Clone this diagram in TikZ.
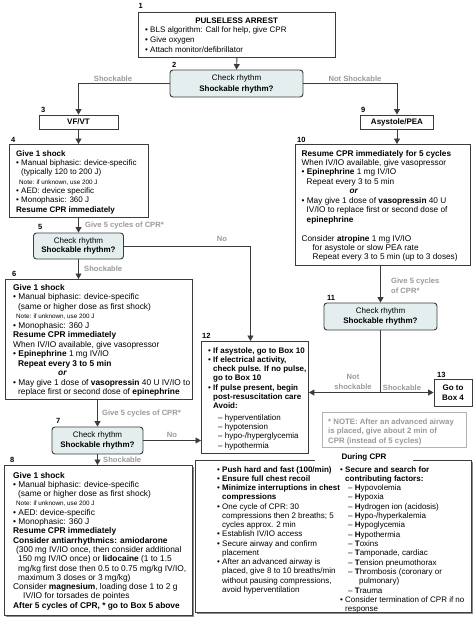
\documentclass[tikz,border=0pt]{standalone}
\usepackage{fontspec}
\setmainfont{Liberation Sans}
\usetikzlibrary{arrows.meta,shadows,calc}
\definecolor{boxline}{HTML}{3C3C3C}
\definecolor{dfill}{HTML}{E4EEEE}
\definecolor{glab}{HTML}{9A9A9A}
\newcommand\bul{\textbullet\ }
\newcommand\hng{\hspace*{5pt}}
\newcommand\tstrut{\rule{0pt}{7pt}}
\newcommand\nt[1]{{\fontsize{6.3}{9.35}\selectfont #1}}
\tikzset{
  box/.style={draw=boxline, line width=0.9pt, fill=white, inner sep=0pt, anchor=north west},
  dec/.style={draw=boxline, line width=0.9pt, fill=dfill, rounded corners=3pt, align=center, inner sep=0pt, font=\fontsize{8}{9.5}\selectfont},
  txt/.style={anchor=north west, inner sep=0pt, align=left, font=\fontsize{8}{9.35}\selectfont},
  num/.style={anchor=base west, inner sep=0pt, font=\bfseries\fontsize{7.5}{9}\selectfont},
  glabel/.style={text=glab, font=\bfseries\fontsize{7.6}{9}\selectfont, inner sep=0pt},
  conn/.style={draw=boxline, line width=0.9pt},
  arr/.style={conn, -{Triangle[width=6pt,length=5.5pt]}},
  shad/.style={drop shadow={shadow xshift=1.3pt, shadow yshift=-1.3pt, fill=black!45, opacity=1}}
}
\begin{document}
\begin{tikzpicture}[x=1pt,y=-1pt]
\fill[white] (0,0) rectangle (474,621);
\useasboundingbox (0,0) rectangle (474,621);

% ---------- boxes ----------
\node[box, minimum width=197, minimum height=45] (b1) at (138,12) {};
\node[dec, minimum width=133, minimum height=27, font=\fontsize{8}{11}\selectfont] (b2) at (236.5,83.5) {Check rhythm\\\textbf{Shockable rhythm?}};
\node[box, anchor=center, minimum width=79, minimum height=14, font=\bfseries\fontsize{8}{9}\selectfont] (b3) at (78.5,122) {VF/VT};
\node[box, anchor=center, minimum width=73, minimum height=14, font=\bfseries\fontsize{8}{9}\selectfont] (b9) at (397,122) {Asystole/PEA};
\node[box, minimum width=139, minimum height=73] (b4) at (9,144) {};
\node[box, minimum width=175, minimum height=121] (b10) at (295,144) {};
\node[dec, minimum width=90, minimum height=26] (b5) at (78.5,246) {Check rhythm\\\textbf{Shockable rhythm?}};
\node[box, minimum width=187, minimum height=120] (b6) at (5,279) {};
\node[dec, minimum width=113, minimum height=27] (b11) at (380.5,316.5) {Check rhythm\\\textbf{Shockable rhythm?}};
\node[box, minimum width=107, minimum height=112] (b12) at (201,341) {};
\node[box, anchor=center, minimum width=38, minimum height=27, align=center, font=\bfseries\fontsize{8}{10}\selectfont] (b13) at (453,392.5) {Go to\\Box 4};
\node[box, draw=black!30, line width=1.2pt, minimum width=144, minimum height=35] (note) at (322,412) {};
\node[dec, minimum width=91, minimum height=27] (b7) at (97.5,440.5) {Check rhythm\\\textbf{Shockable rhythm?}};
\node[box, shad, minimum width=188, minimum height=150] (b8) at (4,465) {};
\node[box, shad, minimum width=276, minimum height=152] (dcpr) at (195,460) {};
\node[fill=white, inner xsep=0pt, inner ysep=1pt, minimum width=98, font=\bfseries\fontsize{8}{9}\selectfont] (dtitle) at (364,457.5) {During CPR};

% ---------- numbers ----------
\node[num] (n1) at (138.5,9) {1};
\node[num] (n2) at (172,67) {2};
\node[num] (n3) at (41,112) {3};
\node[num] (n9) at (361,112) {9};
\node[num] (n4) at (11,142) {4};
\node[num] (n10) at (297,142) {10};
\node[num] (n5) at (38,229) {5};
\node[num] (n6) at (12,276) {6};
\node[num] (n11) at (327,300) {11};
\node[num] (n12) at (202,338) {12};
\node[num] (n7) at (56,423) {7};
\node[num] (n13) at (437,377) {13};
\node[num] (n8) at (10,462) {8};

% ---------- texts ----------
\node[txt, font=\fontsize{8}{9.7}\selectfont] (t1) at (145,15.8) {\tstrut\makebox[183pt][c]{\bfseries PULSELESS ARREST}\\
\bul BLS algorithm: Call for help, give CPR\\
\bul Give oxygen\\
\bul Attach monitor/defibrillator};

\node[txt] (t4) at (16,148.8) {\tstrut\textbf{Give 1 shock}\\
\bul Manual biphasic: device-specific\\
\hng(typically 120 to 200 J)\\
\hspace*{3pt}\nt{Note: if unknown, use 200 J}\\
\bul AED: device specific\\
\bul Monophasic: 360 J\\
\textbf{Resume CPR immediately}};

\node[txt, font=\fontsize{8.25}{9.45}\selectfont] (t10) at (301.5,148.8) {\tstrut\textbf{Resume CPR immediately for 5 cycles}\\
When IV/IO available, give vasopressor\\
\bul\textbf{Epinephrine} 1 mg IV/IO\\
\hng Repeat every 3 to 5 min\\
\hspace*{48pt}\textbf{\itshape or}\\
\bul May give 1 dose of \textbf{vasopressin} 40 U\\
\hng IV/IO to replace first or second dose of\\
\hng\textbf{epinephrine}\\[9.45pt]
Consider \textbf{atropine} 1 mg IV/IO\\
\hspace*{11pt}for asystole or slow PEA rate\\
\hspace*{11pt}Repeat every 3 to 5 min (up to 3 doses)};

\node[txt, font=\fontsize{8.35}{9.5}\selectfont] (t6) at (13,282.8) {\tstrut\textbf{Give 1 shock}\\
\bul Manual biphasic: device-specific\\
\hng(same or higher dose as first shock)\\
\hspace*{3pt}\nt{Note: if unknown, use 200 J}\\
\bul Monophasic: 360 J\\
\textbf{Resume CPR immediately}\\
When IV/IO available, give vasopressor\\
\bul\textbf{Epinephrine} 1 mg IV/IO\\
\hng\textbf{Repeat every 3 to 5 min}\\
\hspace*{45pt}\textbf{\itshape or}\\
\bul May give 1 dose of \textbf{vasopressin} 40 U IV/IO to\\
\hng replace first or second dose of \textbf{epinephrine}};

\node[txt, font=\fontsize{8}{9.25}\selectfont] (t12) at (208,345.8) {\tstrut\bul\textbf{If asystole, go to Box 10}\\
\bul\textbf{If electrical activity,}\\
\hng\textbf{check pulse. If no pulse,}\\
\hng\textbf{go to Box 10}\\
\bul\textbf{If pulse present, begin}\\
\hng\textbf{post-resuscitation care}\\
\hng\textbf{Avoid:}\\[2.6pt]
\hspace*{10pt}-- hyperventilation\\
\hspace*{10pt}-- hypotension\\
\hspace*{10pt}-- hypo-/hyperglycemia\\
\hspace*{10pt}-- hypothermia};

\node[txt, text=glab, font=\bfseries\fontsize{7.8}{9.9}\selectfont] (tnote) at (328,416.8) {\tstrut* NOTE: After an advanced airway\\
is placed, give about 2 min of\\
CPR (instead of 5 cycles)};

\node[txt, font=\fontsize{8.35}{9.3}\selectfont] (t8) at (13,470.8) {\tstrut\textbf{Give 1 shock}\\
\bul Manual biphasic: device-specific\\
\hng(same or higher dose as first shock)\\
\hspace*{3pt}\nt{Note: if unknown, use 200 J}\\
\bul AED: device-specific\\
\bul Monophasic: 360 J\\
\textbf{Resume CPR immediately}\\
\textbf{Consider antiarrhythmics: amiodarone}\\
\hspace*{3pt}(300 mg IV/IO once, then consider additional\\
\hspace*{5pt}150 mg IV/IO once) or \textbf{lidocaine} (1 to 1.5\\
\hspace*{5pt}mg/kg first dose then 0.5 to 0.75 mg/kg IV/IO,\\
\hspace*{5pt}maximum 3 doses or 3 mg/kg)\\
Consider \textbf{magnesium}, loading dose 1 to 2 g\\
\hspace*{10pt}IV/IO for torsades de pointes\\
\textbf{After 5 cycles of CPR, * go to Box 5 above}};

\node[txt, font=\fontsize{8}{9.25}\selectfont] (tdl) at (217,464.8) {\tstrut\bul\textbf{Push hard and fast (100/min)}\\
\bul\textbf{Ensure full chest recoil}\\
\bul\textbf{Minimize interruptions in chest}\\
\hng\textbf{compressions}\\
\bul One cycle of CPR: 30\\
\hng compressions then 2 breaths; 5\\
\hng cycles approx. 2 min\\
\bul Establish IV/IO access\\
\bul Secure airway and confirm\\
\hng placement\\
\bul After an advanced airway is\\
\hng placed, give 8 to 10 breaths/min\\
\hng without pausing compressions,\\
\hng avoid hyperventilation};

\node[txt, font=\fontsize{8}{9.33}\selectfont] (tdr) at (340,464.8) {\tstrut\bul\textbf{Secure and search for}\\
\hng\textbf{contributing factors:}\\
\hspace*{8pt}-- \textbf{H}ypovolemia\\
\hspace*{8pt}-- \textbf{H}ypoxia\\
\hspace*{8pt}-- \textbf{H}ydrogen ion (acidosis)\\
\hspace*{8pt}-- \textbf{H}ypo-/hyperkalemia\\
\hspace*{8pt}-- \textbf{H}ypoglycemia\\
\hspace*{8pt}-- \textbf{H}ypothermia\\
\hspace*{8pt}-- \textbf{T}oxins\\
\hspace*{8pt}-- \textbf{T}amponade, cardiac\\
\hspace*{8pt}-- \textbf{T}ension pneumothorax\\
\hspace*{8pt}-- \textbf{T}hrombosis (coronary or\\
\hspace*{19pt}pulmonary)\\
\hspace*{8pt}-- \textbf{T}rauma\\
\bul Consider termination of CPR if no\\
\hng response};

% ---------- connectors ----------
\draw[arr] (b1.south) -- (b2.north);
\draw[arr] (b2.west) -| (b3.north);
\draw[arr] (b2.east) -| (b9.north);
\draw[arr] (b3.south) -- (b3.south |- b4.north);
\draw[arr] (b5.north |- b4.south) -- (b5.north);
\draw[arr] (b5.south) -- (b5.south |- b6.north);
\draw[arr] (b5.east) -| ([xshift=-4.5pt]b12.north);
\draw[arr] (b7.north |- b6.south) -- (b7.north);
\draw[arr] (b7.south) -- (b7.south |- b8.north);
\draw[arr] (b7.east) -- (b7.east -| b12.west);
\draw[arr] (b9.south) -- (b9.south |- b10.north);
\draw[arr] (b11.north |- b10.south) -- (b11.north);
\coordinate (j) at (b11.south |- b13.west);
\draw[conn] (b11.south) -- (j);
\draw[arr] (j) -- (j -| b12.east);
\draw[arr] (j) -- (b13.west);

% ---------- connector labels ----------
\node[glabel] (l1) at (113,79) {Shockable};
\node[glabel] (l2) at (355,79) {Not Shockable};
\node[glabel, anchor=west] (l3) at (85,226) {Give 5 cycles of CPR*};
\node[glabel] (l4) at (222,238.5) {No};
\node[glabel, anchor=west] (l5) at (84,269) {Shockable};
\node[glabel, anchor=north west, align=left, font=\bfseries\fontsize{7.6}{9.5}\selectfont] (l6) at (391,278) {Give 5 cycles\\of CPR*};
\node[glabel, align=center, font=\bfseries\fontsize{7.6}{9.8}\selectfont] (l7) at (353,382) {Not\\shockable};
\node[glabel] (l8) at (402,388) {Shockable};
\node[glabel, anchor=west] (l9) at (102,414) {Give 5 cycles of CPR*};
\node[glabel] (l10) at (172,435) {No};
\node[glabel, anchor=west] (l11) at (103,460) {Shockable};
\end{tikzpicture}
\end{document}
